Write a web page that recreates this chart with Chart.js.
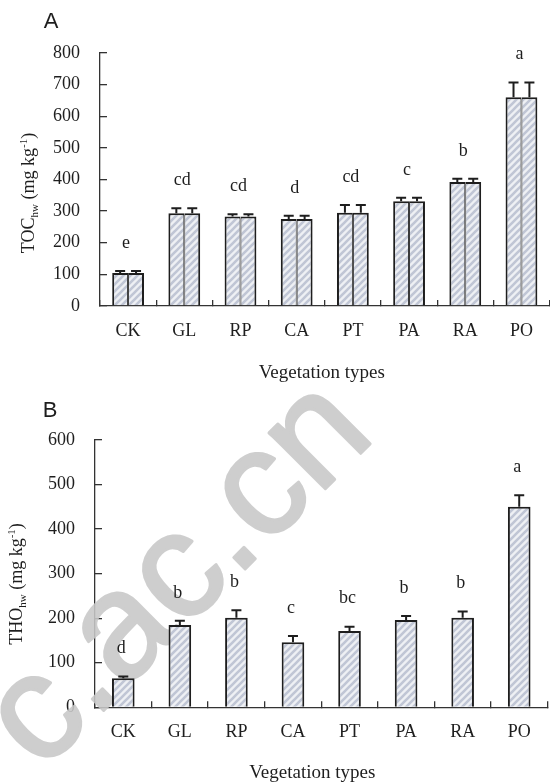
<!DOCTYPE html>
<html>
<head>
<meta charset="utf-8">
<script src="https://cdn.jsdelivr.net/npm/chart.js"></script>
<style>
  html, body { margin: 0; padding: 0; background: #fff; overflow: hidden; width: 550px; height: 784px; }
  .panel { width: 553px; height: 392px; }
  canvas { display: block; }
</style>
</head>
<body>
<div class="panel"><canvas id="chartA" width="553" height="392"></canvas></div>
<div class="panel"><canvas id="chartB" width="553" height="392"></canvas></div>
<script>
// data
const categories = ['CK', 'GL', 'RP', 'CA', 'PT', 'PA', 'RA', 'PO'];
const tocValues = [104, 293, 283, 275, 295, 331, 392, 660];
const tocErrors = [7, 16, 7, 10, 24, 11, 10, 47];
const tocLetters = ['e', 'cd', 'cd', 'd', 'cd', 'c', 'b', 'a'];
const thoValues = [65, 185, 201, 146, 171, 196, 201, 450];
const thoErrors = [4, 9, 17, 14, 10, 9, 14, 26];
const thoLetters = ['d', 'b', 'b', 'c', 'bc', 'b', 'b', 'a'];
const tocAxisMax = 800;
const thoAxisMax = 600;
const axisStep = 100;
const xAxisTitle = 'Vegetation types';

const INK = '#1e1e1e';
const SERIF = '"Liberation Serif", "Times New Roman", serif';

function makeHatch() {
    const c = document.createElement('canvas');
    c.width = 7; c.height = 7;
    const g = c.getContext('2d');
    g.fillStyle = '#eef0f4';
    g.fillRect(0, 0, 7, 7);
    g.strokeStyle = '#c0c6d5';
    g.lineWidth = 2.6;
    g.beginPath();
    g.moveTo(-1, 8); g.lineTo(8, -1);
    g.moveTo(-1, 1); g.lineTo(1, -1);
    g.moveTo(6, 8); g.lineTo(8, 6);
    g.stroke();
    return g.createPattern(c, 'repeat');
}

// y title with sub/superscripts, drawn rotated
function drawYTitle(ctx, parts, x, yCenter) {
    ctx.save();
    let total = 0;
    parts.forEach(p => {
        ctx.font = (p.small ? 11 : 18) + 'px ' + SERIF;
        total += ctx.measureText(p.t).width;
    });
    ctx.translate(x, yCenter + total / 2);
    ctx.rotate(-Math.PI / 2);
    ctx.fillStyle = INK;
    ctx.textBaseline = 'alphabetic';
    ctx.textAlign = 'left';
    let pos = 0;
    parts.forEach(p => {
        ctx.font = (p.small ? 11 : 18) + 'px ' + SERIF;
        ctx.fillText(p.t, pos, p.shift || 0);
        pos += ctx.measureText(p.t).width;
    });
    ctx.restore();
}

function makeChart(canvasId, cfg) {
    const canvas = document.getElementById(canvasId);
    const W = canvas.width, H = canvas.height;
    const hatch = makeHatch();

    let datasets;
    if (cfg.doubleBar) {
        datasets = [
            { data: cfg.values, backgroundColor: hatch, borderColor: INK,
              borderWidth: { top: 2, left: 2, right: 1, bottom: 0 }, borderSkipped: 'start' },
            { data: cfg.values, backgroundColor: hatch, borderColor: INK,
              borderWidth: { top: 2, left: 1, right: 2, bottom: 0 }, borderSkipped: 'start' }
        ];
    } else {
        datasets = [
            { data: cfg.values, backgroundColor: hatch, borderColor: INK,
              borderWidth: 2, borderSkipped: 'start' }
        ];
    }
    datasets.forEach(d => {
        d.categoryPercentage = cfg.catPct;
        d.barPercentage = 1.0;
    });

    // site watermark, anchored on the centre of the "a"
    const watermark = {
        id: 'watermark',
        beforeDatasetsDraw(chart) {
            if (!cfg.watermark) return;
            const off = document.createElement('canvas');
            off.width = W; off.height = H;
            const g = off.getContext('2d');
            g.font = '150px "Liberation Sans", Arial, sans-serif';
            const lead = g.measureText('c.').width + g.measureText('a').width / 2;
            g.translate(cfg.watermark.x, cfg.watermark.y);
            g.rotate(-Math.PI / 4);
            g.fillStyle = '#c8c8c8';
            g.strokeStyle = '#c8c8c8';
            g.lineWidth = 3;
            g.lineJoin = 'round';
            g.textBaseline = 'alphabetic';
            g.fillText('c.ac.cn', -lead, 0);
            g.strokeText('c.ac.cn', -lead, 0);
            const ctx = chart.ctx;
            ctx.save();
            ctx.globalAlpha = 0.88;
            ctx.drawImage(off, 0, 0);
            ctx.restore();
        }
    };

    const marks = {
        id: 'marks',
        afterDatasetsDraw(chart) {
            const ctx = chart.ctx;
            const yScale = chart.scales.y;
            const xScale = chart.scales.x;
            ctx.save();
            ctx.strokeStyle = INK;
            ctx.lineWidth = 2;
            const capTops = [];
            chart.data.datasets.forEach((ds, di) => {
                chart.getDatasetMeta(di).data.forEach((bar, i) => {
                    const yCap = yScale.getPixelForValue(cfg.values[i] + cfg.errors[i]);
                    ctx.beginPath();
                    ctx.moveTo(bar.x, bar.y);
                    ctx.lineTo(bar.x, yCap);
                    ctx.moveTo(bar.x - 5, yCap);
                    ctx.lineTo(bar.x + 5, yCap);
                    ctx.stroke();
                    capTops[i] = yCap;
                });
            });
            ctx.fillStyle = INK;
            ctx.font = '18px ' + SERIF;
            ctx.textAlign = 'center';
            ctx.textBaseline = 'middle';
            cfg.letters.forEach((l, i) => {
                ctx.fillText(l, xScale.getPixelForValue(i) - 2, capTops[i] - cfg.letterGap);
            });
            ctx.restore();
        },
        afterDraw(chart) {
            const ctx = chart.ctx;
            const area = chart.chartArea;
            ctx.save();
            ctx.fillStyle = INK;
            ctx.textAlign = 'center';
            ctx.textBaseline = 'middle';
            ctx.font = '22px "Liberation Sans", Arial, sans-serif';
            ctx.fillText(cfg.panel, cfg.panelX, cfg.panelY);
            ctx.font = '19px ' + SERIF;
            ctx.fillText(xAxisTitle, (area.left + area.right) / 2 + cfg.xTitleShift, cfg.xTitleY);
            ctx.restore();
            drawYTitle(ctx, cfg.yTitle, cfg.yTitleX, cfg.yTitleY);
        }
    };

    return new Chart(canvas, {
        type: 'bar',
        data: { labels: categories, datasets: datasets },
        plugins: [watermark, marks],
        options: {
            responsive: false,
            animation: false,
            events: [],
            layout: { padding: { left: 0, top: cfg.area.top, right: W - cfg.area.right, bottom: 0 } },
            plugins: { legend: { display: false }, tooltip: { enabled: false } },
            scales: {
                x: {
                    offset: true,
                    grid: { display: true, drawOnChartArea: false, drawTicks: true, tickLength: -6,
                            color: '#333', lineWidth: 1.3, offset: true },
                    border: { display: true, color: '#333', width: 1.3 },
                    ticks: { color: INK, font: { family: SERIF, size: 18 }, padding: 20,
                             maxRotation: 0, autoSkip: false },
                    afterFit(s) { s.height = H - cfg.area.bottom; }
                },
                y: {
                    min: 0,
                    max: cfg.max,
                    grid: { display: true, drawOnChartArea: false, drawTicks: true, tickLength: -7,
                            color: '#333', lineWidth: 1.3 },
                    border: { display: true, color: '#333', width: 1.3 },
                    ticks: { stepSize: axisStep, color: INK, font: { family: SERIF, size: 18 }, padding: 27 },
                    afterFit(s) { s.width = cfg.area.left; }
                }
            }
        }
    });
}

makeChart('chartA', {
    values: tocValues, errors: tocErrors, letters: tocLetters, max: tocAxisMax,
    doubleBar: true, catPct: 0.566, letterGap: 28,
    area: { left: 100, right: 552.5, top: 53, bottom: 306 },
    panel: 'A', panelX: 51, panelY: 22,
    xTitleY: 373, xTitleShift: -3,
    yTitle: [{ t: 'TOC' }, { t: 'hw', small: true, shift: 4 }, { t: ' (mg kg' },
             { t: '-1', small: true, shift: -7 }, { t: ')' }],
    yTitleX: 34, yTitleY: 193
});

makeChart('chartB', {
    values: thoValues, errors: thoErrors, letters: thoLetters, max: thoAxisMax,
    doubleBar: false, catPct: 0.40, letterGap: 28,
    area: { left: 95, right: 547.5, top: 48, bottom: 315.3 },
    panel: 'B', panelX: 50, panelY: 19,
    xTitleY: 381, xTitleShift: -9,
    yTitle: [{ t: 'THO' }, { t: 'hw', small: true, shift: 4 }, { t: ' (mg kg' },
             { t: '-1', small: true, shift: -7 }, { t: ')' }],
    yTitleX: 22, yTitleY: 192,
    watermark: { x: 153, y: 269 }
});
</script>
</body>
</html>
